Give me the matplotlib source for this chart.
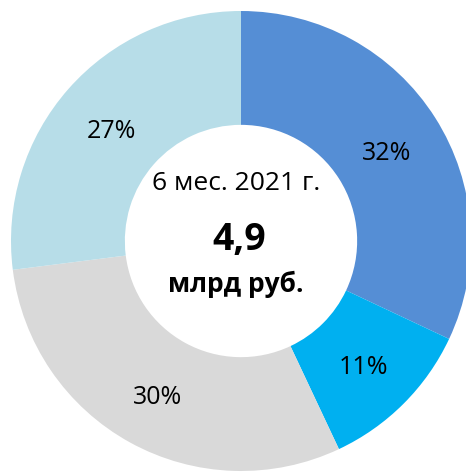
import matplotlib.pyplot as plt

shares = [32, 11, 30, 27]
labels = ['32%', '11%', '30%', '27%']
colors = ['#558ED5', '#00B0F0', '#D9D9D9', '#B7DDE8']
center_lines = ['6 мес. 2021 г.', '4,9', 'млрд руб.']

plt.rcParams['font.family'] = ['Open Sans', 'DejaVu Sans']

fig = plt.figure(figsize=(4.66, 4.73), dpi=100)
ax = fig.add_axes([0, 0, 1, 1])

cx, cy = 241, 473 - 241
R = 230
wedges, texts = ax.pie(shares, labels=labels, colors=colors, startangle=90,
                       counterclock=False, radius=R, center=(cx, cy),
                       labeldistance=0.75, frame=True,
                       wedgeprops=dict(width=R * 0.495, linewidth=0),
                       textprops=dict(fontsize=18, color='black',
                                      ha='center', va='center'))
# nudge labels down a bit
for t in texts:
    x, y = t.get_position()
    t.set_position((x, y - 5))

ax.set_xlim(0, 466)
ax.set_ylim(0, 473)
ax.set_aspect('equal')
ax.axis('off')

ax.text(cx - 5, cy + 58, center_lines[0], fontsize=19, ha='center', va='center')
ax.text(cx - 2, cy + 1, center_lines[1], fontsize=27, fontweight='bold',
        ha='center', va='center')
ax.text(cx - 5, cy - 43, center_lines[2], fontsize=19, fontweight='bold',
        ha='center', va='center')

fig.savefig('out.png', dpi=100)
